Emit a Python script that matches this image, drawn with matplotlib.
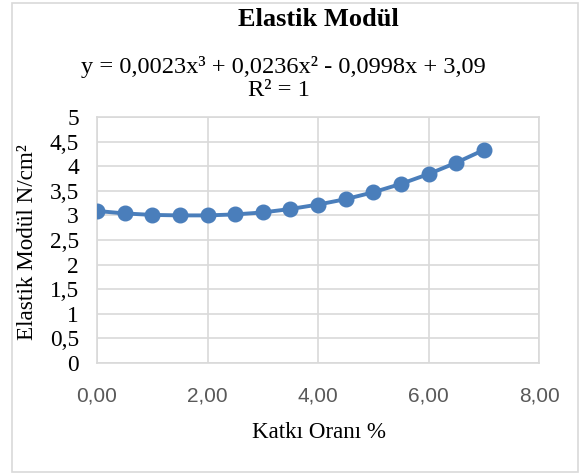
import matplotlib
matplotlib.use('Agg')
import matplotlib.pyplot as plt
from matplotlib.patches import Rectangle

# veri
katki = [0.0, 0.5, 1.0, 1.5, 2.0, 2.5, 3.0, 3.5, 4.0, 4.5, 5.0, 5.5, 6.0, 6.5, 7.0]
modul = [3.09, 3.04, 3.01, 3.00, 3.00, 3.02, 3.06, 3.13, 3.22, 3.33, 3.47, 3.64, 3.84, 4.07, 4.33]

x_ticks = [0, 2, 4, 6, 8]
x_labels = ['0,00', '2,00', '4,00', '6,00', '8,00']
y_ticks = [0, 0.5, 1, 1.5, 2, 2.5, 3, 3.5, 4, 4.5, 5]
y_labels = ['0', '0,5', '1', '1,5', '2', '2,5', '3', '3,5', '4', '4,5', '5']

serif = 'Liberation Serif'
sans = 'Liberation Sans'
mavi = '#4A7EBB'
gri = '#D9D9D9'

fig = plt.figure(figsize=(5.83, 4.75), dpi=100)
# dis cerceve
fig.patches.append(Rectangle((12/583, 3/475), 566/583, 469/475, transform=fig.transFigure,
                             fill=False, edgecolor=gri, linewidth=1.2))

ax = fig.add_axes([97/583, 112/475, 442/583, 246/475])
ax.plot(katki, modul, color=mavi, linewidth=2.8, marker='o', markersize=10.5, zorder=3)

ax.set_xlim(0, 8)
ax.set_ylim(0, 5)
ax.set_xticks(x_ticks)
ax.set_xticklabels(x_labels, fontfamily=sans, fontsize=15, color='#595959')
ax.set_yticks(y_ticks)
ax.set_yticklabels(y_labels, fontfamily=serif, fontsize=16.8)
ax.tick_params(axis='both', length=0)
ax.tick_params(axis='x', pad=17)
ax.tick_params(axis='y', pad=13)
ax.grid(True, color=gri, linewidth=1.2)
ax.set_axisbelow(True)
for s in ax.spines.values():
    s.set_color(gri)
    s.set_linewidth(1.2)

fig.text(318/583, 1 - 19/475, 'Elastik Modül', fontfamily=serif, fontsize=19,
         fontweight='bold', ha='center', va='center')
fig.text(283/583, 1 - 67/475, 'y = 0,0023x³ + 0,0236x² - 0,0998x + 3,09',
         fontfamily=serif, fontsize=17.6, ha='center', va='center')
fig.text(279/583, 1 - 91/475, 'R² = 1', fontfamily=serif, fontsize=17.6,
         ha='center', va='center')
fig.text(28/583, 1 - 242/475, 'Elastik Modül N/cm²', fontfamily=serif, fontsize=16.7,
         rotation=90, ha='center', va='center')
fig.text(319/583, 1 - 433/475, 'Katkı Oranı %', fontfamily=serif, fontsize=16.6,
         ha='center', va='center')

plt.savefig('out.png', dpi=100)
